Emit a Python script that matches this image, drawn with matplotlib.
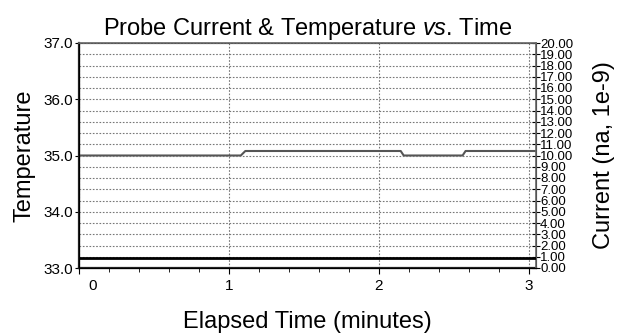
import numpy as np
import matplotlib.pyplot as plt
from matplotlib.ticker import MultipleLocator, FormatStrFormatter
import matplotlib.transforms as mtrans

plt.rcParams['font.family'] = ['Liberation Sans', 'DejaVu Sans']
plt.rcParams['mathtext.fontset'] = 'custom'
plt.rcParams['mathtext.rm'] = 'Liberation Sans'
plt.rcParams['mathtext.it'] = 'Liberation Sans:italic'

# temperature trace (minutes, deg)
tempTime = [0.0, 1.08, 1.11, 2.147, 2.167, 2.56, 2.58, 3.05]
tempVal = [35.0, 35.0, 35.08, 35.08, 35.0, 35.0, 35.08, 35.08]

# probe current trace (minutes, nA)
currTime = [0.0, 3.05]
currVal = [0.93, 0.93]

fig = plt.figure(figsize=(6.26, 3.35), dpi=100)
ax = fig.add_axes([79/626, 1 - 268/335, (536-79)/626, (268-43)/335])
ax2 = ax.twinx()

ax.plot(tempTime, tempVal, color='#555555', lw=1.5, zorder=3)
ax2.plot(currTime, currVal, color='black', lw=2.0, zorder=3)

ax.set_xlim(0, 3.05)
ax.set_ylim(33.0, 37.0)
ax2.set_ylim(0, 20)

ax.xaxis.set_major_locator(MultipleLocator(1))
ax.xaxis.set_minor_locator(MultipleLocator(0.2))
ax.yaxis.set_major_locator(MultipleLocator(1))
ax.yaxis.set_minor_locator(MultipleLocator(0.2))
ax.yaxis.set_major_formatter(FormatStrFormatter('%.1f'))
ax2.yaxis.set_major_locator(MultipleLocator(1))
ax2.yaxis.set_major_formatter(FormatStrFormatter('%.2f'))

ax.tick_params(axis='x', which='major', direction='out', length=4, labelsize=11, pad=4)
ax.tick_params(axis='x', which='minor', direction='out', length=3)
ax.tick_params(axis='y', which='major', direction='out', length=3, labelsize=11, pad=1)
ax.tick_params(axis='y', which='minor', length=0)
ax2.tick_params(axis='y', which='major', direction='inout', length=6, labelsize=9.5, pad=0)

# first x label sits a bit right of the axis origin
for lbl in ax.get_xticklabels():
    if lbl.get_text() in ('0', '−0'):
        lbl.set_transform(lbl.get_transform() + mtrans.ScaledTranslation(14/100, 0, fig.dpi_scale_trans))

ax.grid(True, which='major', axis='x', color='#777777', ls=(0, (1.5, 1.5)), lw=0.8)
ax2.grid(True, which='major', axis='y', color='#777777', ls=(0, (1.5, 1.5)), lw=0.8)

for s in ['left', 'bottom']:
    ax.spines[s].set_color('#222222')
    ax.spines[s].set_linewidth(1.6)
for s in ['top', 'right']:
    ax2.spines[s].set_color('#666666')
    ax2.spines[s].set_linewidth(1.2)

ax.set_title('Probe Current & Temperature $\\it{vs}$. Time', fontsize=17, pad=6)
ax.set_xlabel('Elapsed Time (minutes)', fontsize=17, labelpad=13)
ax.set_ylabel('Temperature', fontsize=17, labelpad=6)
ax2.set_ylabel('Current (na, 1e-9)', fontsize=17, labelpad=14)

fig.savefig('out.png', dpi=100)
